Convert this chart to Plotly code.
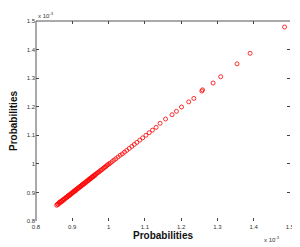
import plotly.graph_objects as go

x_vals = [0.857, 0.859, 0.861, 0.863, 0.865, 0.867, 0.869, 0.871, 0.873, 0.875,
          0.877, 0.879, 0.881, 0.883, 0.885, 0.887, 0.889, 0.891, 0.893, 0.895,
          0.897, 0.899, 0.901, 0.903, 0.905, 0.907, 0.909, 0.911, 0.913, 0.915,
          0.917, 0.919, 0.921, 0.923, 0.925, 0.927, 0.929, 0.931, 0.933, 0.935,
          0.937, 0.939, 0.941, 0.943, 0.945, 0.947, 0.949, 0.951, 0.953, 0.955,
          0.957, 0.959, 0.961, 0.963, 0.965, 0.968, 0.971, 0.974, 0.977, 0.980,
          0.983, 0.986, 0.989, 0.992, 0.995, 0.998, 1.001, 1.005, 1.010, 1.015,
          1.020, 1.026, 1.032, 1.038, 1.044, 1.050, 1.057, 1.064, 1.071, 1.078,
          1.086, 1.094, 1.103, 1.112, 1.121, 1.131, 1.142, 1.157, 1.175, 1.187,
          1.201, 1.221, 1.235, 1.257, 1.259, 1.288, 1.309, 1.354, 1.390, 1.485]
y_vals = [0.855, 0.859, 0.858, 0.862, 0.866, 0.864, 0.869, 0.868, 0.873, 0.872,
          0.877, 0.876, 0.880, 0.883, 0.882, 0.886, 0.889, 0.888, 0.893, 0.892,
          0.896, 0.899, 0.898, 0.902, 0.905, 0.904, 0.909, 0.908, 0.912, 0.915,
          0.914, 0.918, 0.921, 0.920, 0.924, 0.927, 0.926, 0.931, 0.930, 0.934,
          0.937, 0.936, 0.940, 0.943, 0.942, 0.946, 0.949, 0.948, 0.952, 0.955,
          0.954, 0.958, 0.961, 0.960, 0.964, 0.967, 0.970, 0.972, 0.976, 0.979,
          0.981, 0.985, 0.988, 0.990, 0.994, 0.997, 1.000, 1.003, 1.008, 1.013,
          1.018, 1.024, 1.030, 1.035, 1.041, 1.047, 1.054, 1.061, 1.068, 1.075,
          1.083, 1.091, 1.100, 1.109, 1.118, 1.128, 1.142, 1.157, 1.172, 1.184,
          1.199, 1.217, 1.229, 1.255, 1.259, 1.283, 1.305, 1.350, 1.387, 1.479]
tick_vals = [0.8, 0.9, 1.0, 1.1, 1.2, 1.3, 1.4, 1.5]
tick_text = ["0.8", "0.9", "1", "1.1", "1.2", "1.3", "1.4", "1.5"]

fig = go.Figure()
fig.add_trace(go.Scatter(
    x=x_vals, y=y_vals, mode="markers",
    marker=dict(symbol="circle-open", size=4, color="rgba(255,0,0,0.8)",
                line=dict(width=1, color="rgba(255,0,0,0.8)")),
    showlegend=False))

axis_common = dict(range=[0.8, 1.5], tickvals=tick_vals, ticktext=tick_text,
                   ticks="inside", ticklen=3, tickcolor="#444", showgrid=False,
                   zeroline=False, showline=False, mirror="ticks", automargin=False,
                   tickfont=dict(family="Liberation Sans", size=6, color="#333"))

fig.update_xaxes(**axis_common, ticklabelstandoff=1,
                 title=dict(text="<b>Probabilities</b>", standoff=0,
                            font=dict(family="Liberation Sans", size=10, color="#111")))
fig.update_yaxes(**axis_common,
                 title=dict(text="<b>Probabilities</b>", standoff=18,
                            font=dict(family="Liberation Sans", size=10, color="#111")))

fig.add_shape(type="line", xref="paper", yref="paper", x0=0, y0=1, x1=1, y1=1,
              line=dict(color="#555", width=1))
fig.add_shape(type="line", xref="paper", yref="paper", x0=0, y0=0, x1=0, y1=1,
              line=dict(color="#555", width=1))

fig.add_annotation(text="x 10<sup>-3</sup>", xref="paper", yref="paper",
                   x=0.0, y=1.0, xanchor="left", yanchor="bottom", showarrow=False,
                   font=dict(family="Liberation Sans", size=6, color="#333"))
fig.add_annotation(text="x 10<sup>-3</sup>", xref="paper", yref="paper",
                   x=0.97, y=-0.06, xanchor="right", yanchor="top", showarrow=False,
                   font=dict(family="Liberation Sans", size=6, color="#333"))

fig.update_layout(width=300, height=247, margin=dict(l=28, r=18, t=13, b=34),
                  paper_bgcolor="white", plot_bgcolor="white")
fig.write_html("out.html")
